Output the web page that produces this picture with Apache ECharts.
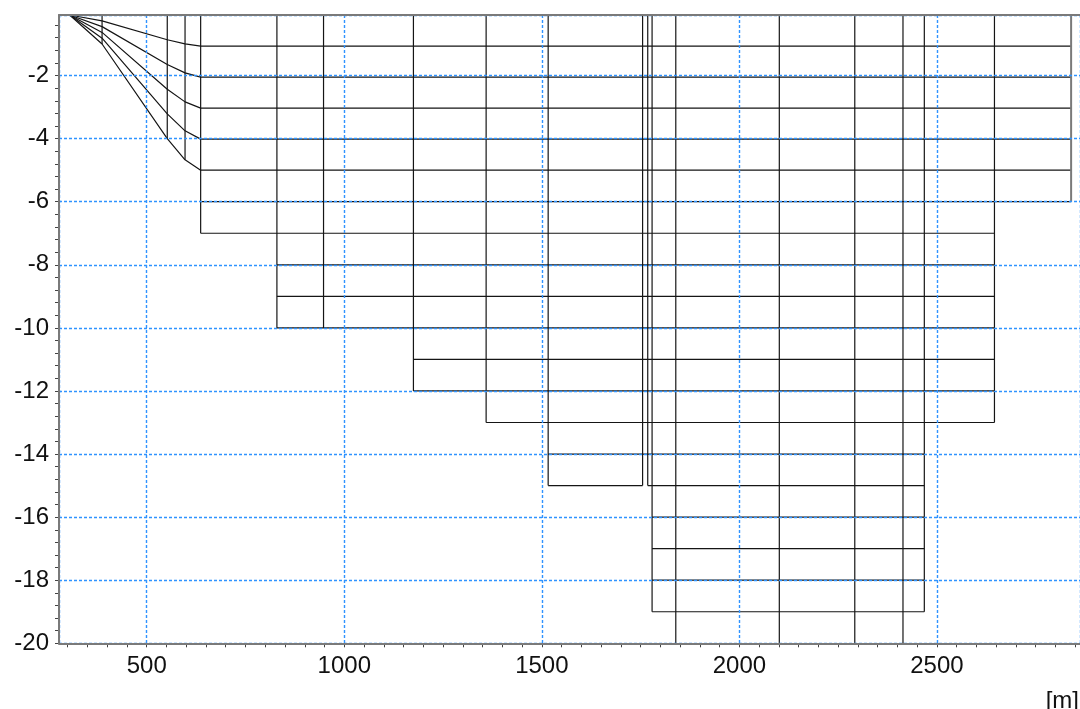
<!DOCTYPE html>
<html><head><meta charset="utf-8">
<script src="https://cdn.jsdelivr.net/npm/echarts@6/dist/echarts.min.js"></script>
<style>html,body{margin:0;padding:0;background:#fff;} #c{width:1080px;height:709px;}</style>
</head><body><div id="c"></div>
<script>
// ---- data ----
const surface = -0.08;            // water surface level (top of mesh)
const sigmaLayers = 5;            // number of sigma layers
const sigmaBase = -5;             // bottom of sigma domain
const sigmaNodeX   = [305, 387, 552, 597, 636.5];
const sigmaNodeBed = [-0.08, -1.0, -4.0, -4.67, -5.0];
const zEdges   = [636.5, 829.5, 947.5, 1175, 1359, 1516, 1755, 1768, 1779, 1839, 2101, 2292, 2414, 2468, 2645.5, 2839.5];
const zBottoms = [-7, -10, -10, -12, -13, -15, -14, -15, -19, -21, -21, -21, -19, -13, -6];
const zLevels  = [-6, -7, -8, -9, -10, -11, -12, -13, -14, -15, -16, -17, -18, -19];
const xLabels  = [500, 1000, 1500, 2000, 2500];
const yLabels  = [-20, -18, -16, -14, -12, -10, -8, -6, -4, -2];
const xMin = 278, xMax = 2862, yMin = -20, yMax = -0.08;

// minor tick positions
const xMinor = []; for (let v = 300; v <= 2850; v += 50) xMinor.push(v);
const yMinor = []; for (let i = 0; i < 50; i++) yMinor.push(+(-20 + i * 0.4).toFixed(2));

// ---- mesh segments ----
const meshColor = '#151515';
const meshWidth = 1.2;
const series = [];
function addLine(points, color, width) {
  series.push({
    type: 'line', data: points, xAxisIndex: 0, yAxisIndex: 0,
    showSymbol: false, symbol: 'none', silent: true, animation: false, clip: true,
    lineStyle: { color: color || meshColor, width: width || meshWidth }, z: 3
  });
}
// contiguous runs of z columns whose bottom is at/below level
function runs(level) {
  const out = []; let start = null;
  for (let j = 0; j < zBottoms.length; j++) {
    const wet = zBottoms[j] <= level + 1e-9;
    if (wet && start === null) start = j;
    if (!wet && start !== null) { out.push([start, j]); start = null; }
  }
  if (start !== null) out.push([start, zBottoms.length]);
  return out;
}
// surface line
addLine([[sigmaNodeX[0], surface], [zEdges[zEdges.length - 1], surface]]);
// sigma layer lines (continue into z region)
for (let k = 1; k <= sigmaLayers; k++) {
  const lvl = surface + k * (sigmaBase - surface) / sigmaLayers;
  const pts = sigmaNodeX.map((x, i) => [x, surface + k * (sigmaNodeBed[i] - surface) / sigmaLayers]);
  const r = runs(lvl);
  r.forEach((rr, idx) => {
    if (idx === 0 && rr[0] === 0) {
      pts.push([zEdges[rr[1]], lvl]);
      addLine(pts);
    } else {
      addLine([[zEdges[rr[0]], lvl], [zEdges[rr[1]], lvl]]);
    }
  });
}
// z level lines
zLevels.forEach(lvl => {
  runs(lvl).forEach(rr => addLine([[zEdges[rr[0]], lvl], [zEdges[rr[1]], lvl]]));
});
// verticals in sigma region
for (let i = 1; i < sigmaNodeX.length - 1; i++) {
  addLine([[sigmaNodeX[i], surface], [sigmaNodeX[i], sigmaNodeBed[i]]]);
}
// verticals in z region
for (let j = 0; j < zEdges.length; j++) {
  const left = j === 0 ? sigmaNodeBed[sigmaNodeBed.length - 1] : zBottoms[j - 1];
  const right = j < zBottoms.length ? zBottoms[j] : null;
  const bot = right === null ? left : Math.min(left, right);
  const last = j === zEdges.length - 1;
  addLine([[zEdges[j], surface], [zEdges[j], bot]], last ? '#7a7a7a' : meshColor, last ? 2 : meshWidth);
}

// ---- chart ----
const FONT = '"Liberation Sans", Arial, sans-serif';
const axisGray = '#7a7a7a';
const gridBlue = '#2f93ff';
const chart = echarts.init(document.getElementById('c'), null, { renderer: 'canvas' });
chart.setOption({
  animation: false,
  backgroundColor: '#ffffff',
  grid: { left: 59, top: 15, width: 1021.5, height: 628.3, containLabel: false },
  xAxis: [
    { type: 'value', min: xMin, max: xMax, position: 'bottom', z: 10,
      axisLine: { show: true, onZero: false, lineStyle: { color: axisGray, width: 2 } },
      axisTick: { show: false },
      axisLabel: { customValues: xLabels, fontSize: 24, fontFamily: FONT, color: '#111', margin: 11,
                   formatter: v => (xLabels.indexOf(v) >= 0 ? String(v) : '') },
      splitLine: { show: true, lineStyle: { color: gridBlue, type: [3, 2], width: 1.4 } } },
    { type: 'value', min: xMin, max: xMax, position: 'bottom', z: 9,
      axisLine: { show: false }, axisLabel: { show: false }, splitLine: { show: false },
      axisTick: { show: true, customValues: xMinor, length: 4, lineStyle: { color: '#444', width: 1 } } },
    { type: 'value', min: xMin, max: xMax, position: 'top', z: 10,
      axisLine: { show: true, onZero: false, lineStyle: { color: axisGray, width: 2 } },
      axisTick: { show: false }, axisLabel: { show: false }, splitLine: { show: false } }
  ],
  yAxis: [
    { type: 'value', min: yMin, max: yMax, interval: 2, position: 'left', z: 10,
      axisLine: { show: true, onZero: false, lineStyle: { color: axisGray, width: 2 } },
      axisTick: { show: false },
      axisLabel: { fontSize: 24, fontFamily: FONT, color: '#111', margin: 10,
                   formatter: v => (yLabels.indexOf(Math.round(v * 100) / 100) >= 0 ? String(Math.round(v)) : '') },
      splitLine: { show: true, lineStyle: { color: gridBlue, type: [3, 2], width: 1.4 } } },
    { type: 'value', min: yMin, max: yMax, position: 'left', z: 9,
      axisLine: { show: false }, axisLabel: { show: false }, splitLine: { show: false },
      axisTick: { show: true, customValues: yMinor, length: 4, lineStyle: { color: '#444', width: 1 } } }
  ],
  graphic: [
    { type: 'text', x: 1079, y: 701, z: 20,
      style: { text: '[m]', fill: '#111', font: '24px ' + FONT, align: 'right', verticalAlign: 'middle' } }
  ],
  series: series
});
</script>
</body></html>
